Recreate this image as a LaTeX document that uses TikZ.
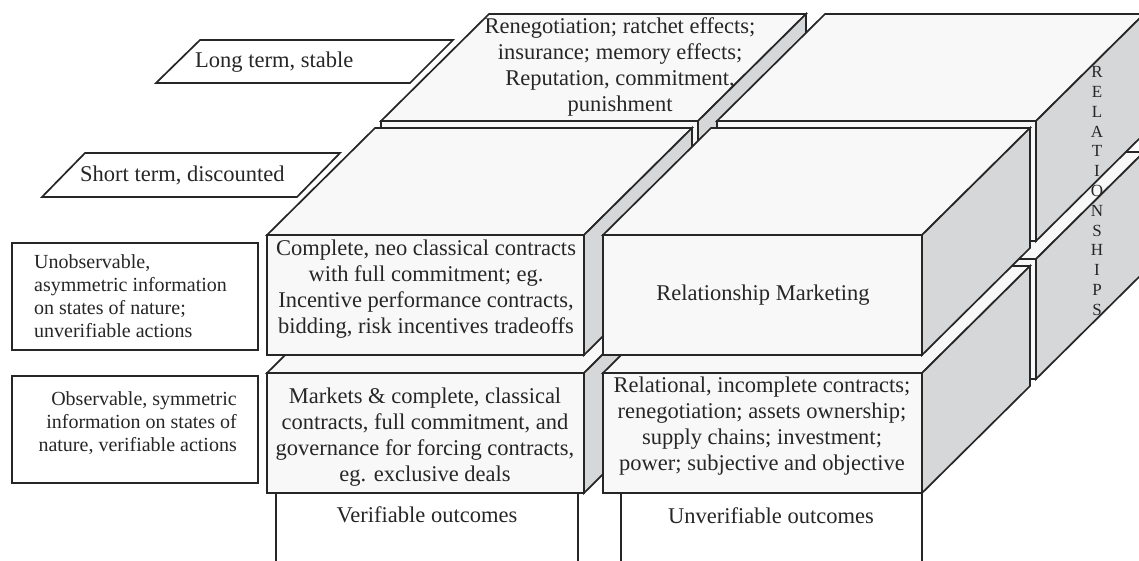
\documentclass[tikz,border=0pt]{standalone}
\usepackage{fontspec}
\setmainfont{Liberation Serif}
\definecolor{inkgray}{HTML}{262626}
\definecolor{paleface}{HTML}{F8F8F8}
\definecolor{shadeface}{HTML}{D5D7D9}
% depth vector of every block
\newcommand\cubdx{108}
\newcommand\cubdy{-107}
% block with front face (#1,#2)-(#3,#4), seen from above right
\newcommand\drawcuboid[4]{%
  \filldraw[topface] (#1,#2) -- (#3,#2) -- ({#3+\cubdx},{#2+\cubdy}) -- ({#1+\cubdx},{#2+\cubdy}) -- cycle;
  \filldraw[sideface] (#3,#2) -- ({#3+\cubdx},{#2+\cubdy}) -- ({#3+\cubdx},{#4+\cubdy}) -- (#3,#4) -- cycle;
  \filldraw[frontface] (#1,#2) rectangle (#3,#4);}
\begin{document}
\begin{tikzpicture}[x=1pt,y=-1pt,
  edge/.style={draw=inkgray,line width=1.7pt},
  topface/.style={edge,fill=paleface},
  frontface/.style={edge,fill=paleface},
  sideface/.style={edge,fill=shadeface},
  plainbox/.style={edge,fill=white},
  celltext/.style={font=\fontsize{22.5}{26}\selectfont,align=center,inner sep=0pt,text=inkgray},
  labeltext/.style={font=\fontsize{20}{23}\selectfont,inner sep=0pt,text=inkgray},
  termtext/.style={font=\fontsize{22.5}{26}\selectfont,inner sep=0pt,anchor=west,text=inkgray},
  spinetext/.style={font=\fontsize{17}{19.8}\selectfont,align=center,inner sep=0pt,text=inkgray}]
\useasboundingbox (0,0) rectangle (1139,560);
\clip (0,0) rectangle (1139,560);
\fill[white] (0,0) rectangle (1139,560);

% time horizon labels
\draw[plainbox] (200,40) -- (453,40) -- (410,83) -- (156,83) -- cycle;
\node[termtext] (longterm) at (195,62) {Long term, stable};
\draw[plainbox] (85,153) -- (340,153) -- (297,197) -- (42,197) -- cycle;
\node[termtext] (shortterm) at (80,175) {Short term, discounted};

% information labels
\draw[plainbox] (12,243) rectangle (258,350);
\node[labeltext,align=left,anchor=west] (unobs) at (34,296)
  {Unobservable,\\asymmetric information\\on states of nature;\\unverifiable actions};
\draw[plainbox] (12,376) rectangle (258,483);
\node[labeltext,align=right,anchor=east] (obs) at (237,423)
  {Observable, symmetric\\information on states of\\nature, verifiable actions};

% back layer: long term
\begin{scope}[shift={(114,-114)}]
  \drawcuboid{267}{373}{584}{493}
  \drawcuboid{603}{373}{922}{493}
  \drawcuboid{267}{235}{584}{355}
  \drawcuboid{603}{235}{922}{355}
\end{scope}
\node[celltext] (longrel) at (620,67)
  {Renegotiation; ratchet effects;\\insurance; memory effects;\\Reputation, commitment,\\punishment};
\node[spinetext] (spine) at (1097,191) {R\\E\\L\\A\\T\\I\\O\\N\\S\\H\\I\\P\\S};

% outcome columns
\draw[plainbox] (276,493) rectangle (578,580);
\node[celltext] (verif) at (427,515) {Verifiable outcomes};
\draw[plainbox] (621,493) rectangle (922,580);
\node[celltext] (unverif) at (771,516) {Unverifiable outcomes};

% front layer: short term
\drawcuboid{267}{373}{584}{493}
\drawcuboid{603}{373}{922}{493}
\drawcuboid{267}{235}{584}{355}
\drawcuboid{603}{235}{922}{355}

\node[celltext] (complete) at (426,289)
  {Complete, neo classical contracts\\with full commitment; eg.\\Incentive performance contracts,\\bidding, risk incentives tradeoffs};
\node[celltext] (relmkt) at (763,295) {Relationship Marketing};
\node[celltext] (markets) at (425,437)
  {Markets \& complete, classical\\contracts, full commitment, and\\governance for forcing contracts,\\eg. exclusive deals};
\node[celltext] (relational) at (762,426)
  {Relational, incomplete contracts;\\renegotiation; assets ownership;\\supply chains; investment;\\power; subjective and objective};
\end{tikzpicture}
\end{document}
